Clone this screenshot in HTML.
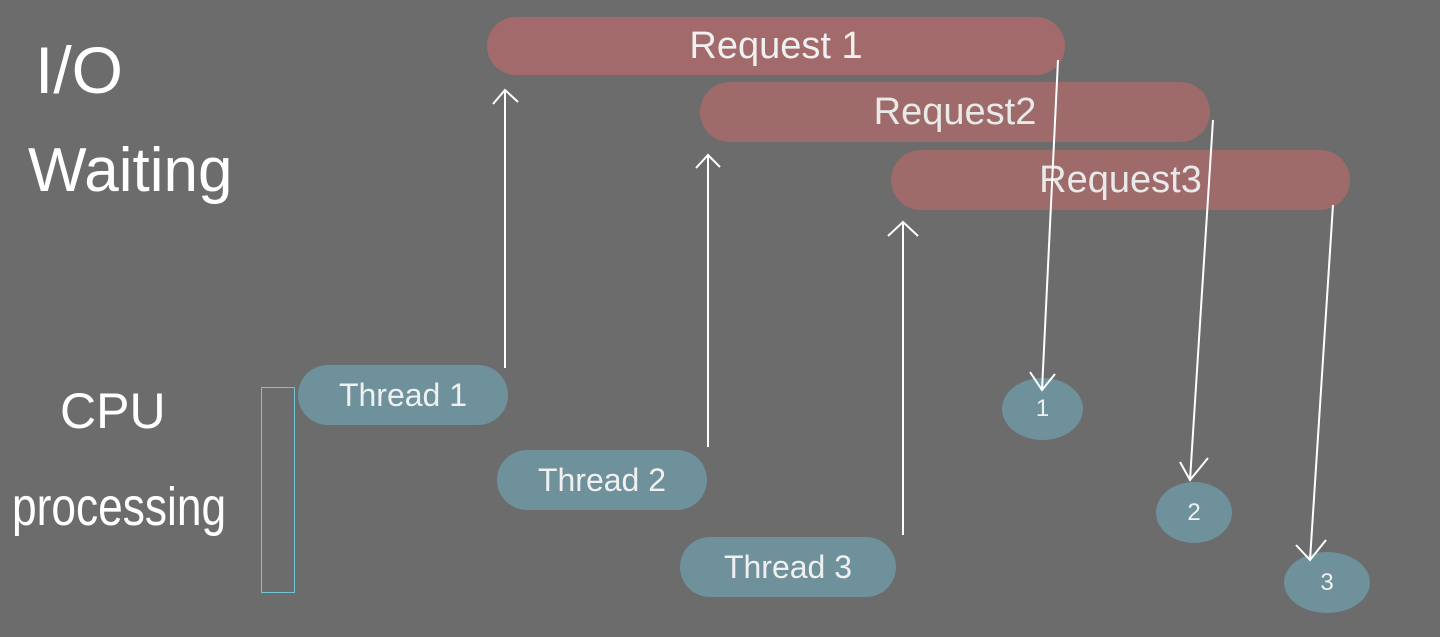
<!DOCTYPE html>
<html><head><meta charset="utf-8"><style>
html,body{margin:0;padding:0}
body{width:1440px;height:637px;background:#6c6c6c;position:relative;overflow:hidden;font-family:"Liberation Sans",sans-serif;color:#fff}
.p{position:absolute;display:flex;align-items:center;justify-content:center;color:#f0f0f0}
.r{background:#a26a6a;border-radius:30px;font-size:38px}
.b{background:#6e919c;border-radius:30px;font-size:32px}
.c{background:#6e919c;border-radius:50%;font-size:24px}
.t{position:absolute;color:#fff;transform-origin:0 0}
</style></head><body>
<div class="p r" style="left:487px;top:17px;width:578px;height:58px">Request 1</div>
<div class="p r" style="left:700px;top:82px;width:510px;height:60px;opacity:.95">Request2</div>
<div class="p r" style="left:891px;top:150px;width:459px;height:60px;opacity:.95">Request3</div>
<div class="p b" style="left:298px;top:365px;width:210px;height:60px">Thread 1</div>
<div class="p b" style="left:497px;top:450px;width:210px;height:60px">Thread 2</div>
<div class="p b" style="left:680px;top:537px;width:216px;height:60px">Thread 3</div>
<div class="p c" style="left:1002px;top:378px;width:81px;height:62px">1</div>
<div class="p c" style="left:1156px;top:482px;width:76px;height:61px">2</div>
<div class="p c" style="left:1284px;top:552px;width:86px;height:61px">3</div>
<div style="position:absolute;left:261px;top:387px;width:32px;height:204px;border:1.5px solid #6ec6d6"></div>
<div class="t" style="left:35px;top:32px;font-size:66px">I/O</div>
<div class="t" style="left:28px;top:135px;font-size:62px">Waiting</div>
<div class="t" style="left:60px;top:382px;font-size:50px">CPU</div>
<div class="t" style="left:12px;top:476px;font-size:54px;transform:scaleX(0.82)">processing</div>
<svg width="1440" height="637" style="position:absolute;left:0;top:0" fill="none" stroke="#fff" stroke-width="2">
<path d="M505 368V90M493 104L505 90L518 102"/>
<path d="M708 447V155M696 168L708 155L720 167"/>
<path d="M903 535V222M888 236L903 222L918 236"/>
<path d="M1058 60L1042 390M1030 372L1042 390L1055 374"/>
<path d="M1213 120L1190 480M1180 462L1190 480L1208 458"/>
<path d="M1333 205L1310 560M1296 545L1310 560L1326 540"/>
</svg>
</body></html>
